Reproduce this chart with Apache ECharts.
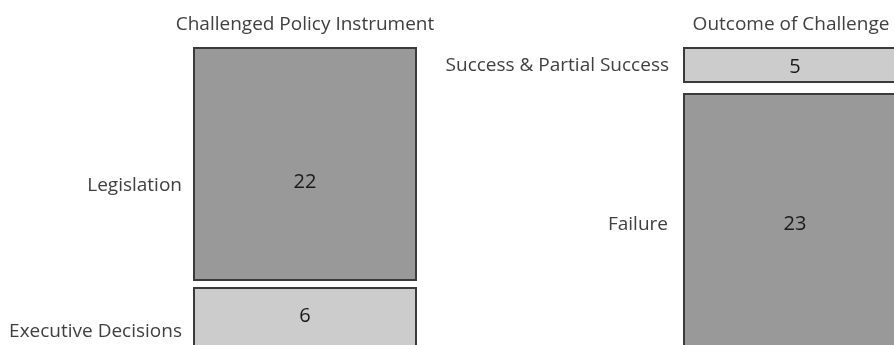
<!DOCTYPE html>
<html>
<head>
<meta charset="utf-8">
<script src="https://cdn.jsdelivr.net/npm/echarts@6/dist/echarts.min.js"></script>
<style>
  html, body { margin: 0; padding: 0; background: #fff; }
  #chart { width: 894px; height: 345px; }
</style>
</head>
<body>
<div id="chart"></div>
<script>
// data
const panelTitles = ['Challenged Policy Instrument', 'Outcome of Challenge'];
const policyCats = ['Legislation', 'Executive Decisions'];
const policyCounts = [22, 6];
const outcomeCats = ['Success & Partial Success', 'Failure'];
const outcomeCounts = [5, 23];

// one grid per box; dy = shift of the count, ny = shift of the category name
const boxes = [
  { cat: policyCats[0], val: policyCounts[0], left: 193, top: 47, width: 224, height: 234, dy: 18, ny: 22, gap: 11, color: '#999999' },
  { cat: policyCats[1], val: policyCounts[1], left: 193, top: 287, width: 224, height: 64, dy: -3, ny: 13, gap: 11, color: '#cccccc' },
  { cat: outcomeCats[0], val: outcomeCounts[0], left: 683, top: 47, width: 224, height: 36, dy: 2, ny: 1, gap: 14, color: '#cccccc' },
  { cat: outcomeCats[1], val: outcomeCounts[1], left: 683, top: 93, width: 224, height: 270, dy: -4, ny: -3, gap: 15, color: '#999999' }
];

const font = 'Open Sans, sans-serif';
const textColor = '#404040';

let grid = [], xAxis = [], yAxis = [], series = [];
boxes.forEach((b, i) => {
  grid.push({ left: b.left, top: b.top, width: b.width, height: b.height, outerBoundsMode: 'none', containLabel: false });
  xAxis.push({ type: 'category', gridIndex: i, data: [b.cat], show: false });
  yAxis.push({ type: 'value', gridIndex: i, min: 0, max: b.val, show: false });
  // the box with its count
  series.push({
    type: 'bar', xAxisIndex: i, yAxisIndex: i, barWidth: '100%', barGap: '-100%',
    data: [b.val],
    itemStyle: { color: b.color, borderColor: '#3a3a3a', borderWidth: 2 },
    label: { show: true, position: 'inside', offset: [0, b.dy], color: '#1a1a1a', fontFamily: font, fontSize: 20 },
    silent: true
  });
  // category name left of the box
  series.push({
    type: 'bar', xAxisIndex: i, yAxisIndex: i, barWidth: '100%', barGap: '-100%',
    data: [b.val],
    itemStyle: { color: 'rgba(0,0,0,0)' },
    label: { show: true, position: 'left', distance: b.gap, offset: [0, b.ny], formatter: '{b}', color: textColor, fontFamily: font, fontSize: 19 },
    silent: true
  });
});

let myChart = echarts.init(document.getElementById('chart'));
let option = {
  animation: false,
  title: [
    { text: panelTitles[0], left: 300, top: 10, textAlign: 'center', textStyle: { color: textColor, fontFamily: font, fontSize: 19, fontWeight: 'normal' } },
    { text: panelTitles[1], left: 786, top: 10, textAlign: 'center', textStyle: { color: textColor, fontFamily: font, fontSize: 19, fontWeight: 'normal' } }
  ],
  grid: grid,
  xAxis: xAxis,
  yAxis: yAxis,
  series: series
};
myChart.setOption(option);
</script>
</body>
</html>
